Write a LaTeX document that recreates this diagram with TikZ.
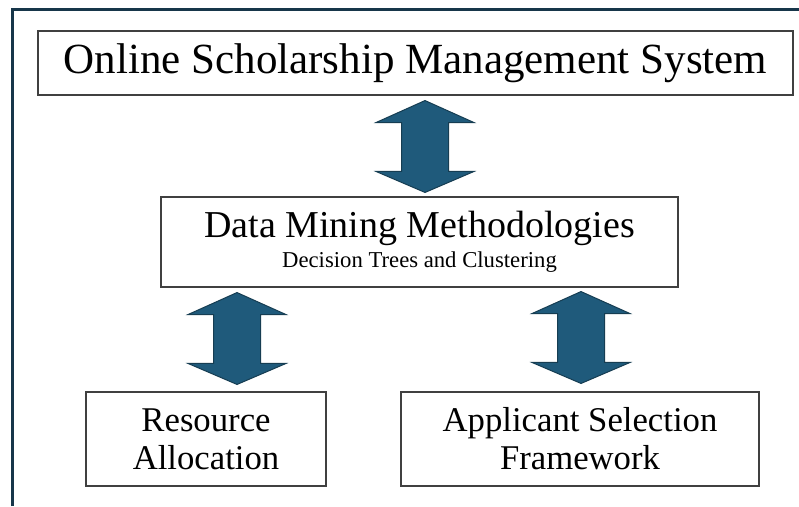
\documentclass[tikz,border=0pt]{standalone}
\usepackage{fontspec}
\setmainfont{Liberation Serif}
\usetikzlibrary{calc}
\usetikzlibrary{positioning}

\definecolor{framenavy}{HTML}{17364A}
\definecolor{arrowblue}{HTML}{1F5A7B}
\definecolor{arrowedge}{HTML}{163D52}

% double headed block arrow from upper tip #1 to lower tip #2
\newcommand{\dblarrow}[2]{%
    \draw[flow] let \p1 = (#1), \p2 = (#2) in
        (\x1, \y1) -- (\x1+49pt, \y1-22pt) -- (\x1+23.5pt, \y1-22pt)
        -- (\x1+23.5pt, \y2+21pt) -- (\x1+49pt, \y2+21pt) -- (\x1, \y2)
        -- (\x1-49pt, \y2+21pt) -- (\x1-23.5pt, \y2+21pt)
        -- (\x1-23.5pt, \y1-22pt) -- (\x1-49pt, \y1-22pt) -- cycle;
}

\begin{document}
\begin{tikzpicture}[x = 1pt, y = -1pt,
    box/.style = {draw = black!75, line width = 1.1pt, fill = white, align = center, inner sep = 0pt},
    flow/.style = {fill = arrowblue, draw = arrowedge, line width = 1pt, line join = miter}]

    \useasboundingbox (0,0) rectangle (799,506);

    \draw[framenavy, line width = 3pt] (12,506) |- (799,9.5);

    \node (oss) at (415.5,63) [box, minimum width = 755pt, minimum height = 64pt,
        font = \fontsize{43}{46}\selectfont] {Online Scholarship Management System};

    \node (dmm) at (419.5,242) [box, minimum width = 517pt, minimum height = 90pt,
        font = \fontsize{22.7}{30}\selectfont]
        {{\fontsize{38}{30}\selectfont Data Mining Methodologies}\\Decision Trees and Clustering};

    \node (res) at (206,439) [box, minimum width = 240pt, minimum height = 94pt,
        font = \fontsize{34.7}{38}\selectfont] {Resource\\Allocation};

    \node (app) at (580,439) [box, minimum width = 358pt, minimum height = 94pt,
        font = \fontsize{34.7}{38}\selectfont] {Applicant Selection\\Framework};

    % arrow tips, a little off the boxes
    \path (oss.south) ++(9.5,5) coordinate (a1) (dmm.north) ++(5.5,-4) coordinate (b1);
    \path (dmm.south) ++(-182.5,5) coordinate (a2) (res.north) ++(31,-7) coordinate (b2);
    \path (dmm.south) ++(161.5,4) coordinate (a3) (app.north) ++(1,-8) coordinate (b3);

    \dblarrow{a1}{b1}
    \dblarrow{a2}{b2}
    \dblarrow{a3}{b3}

\end{tikzpicture}
\end{document}
